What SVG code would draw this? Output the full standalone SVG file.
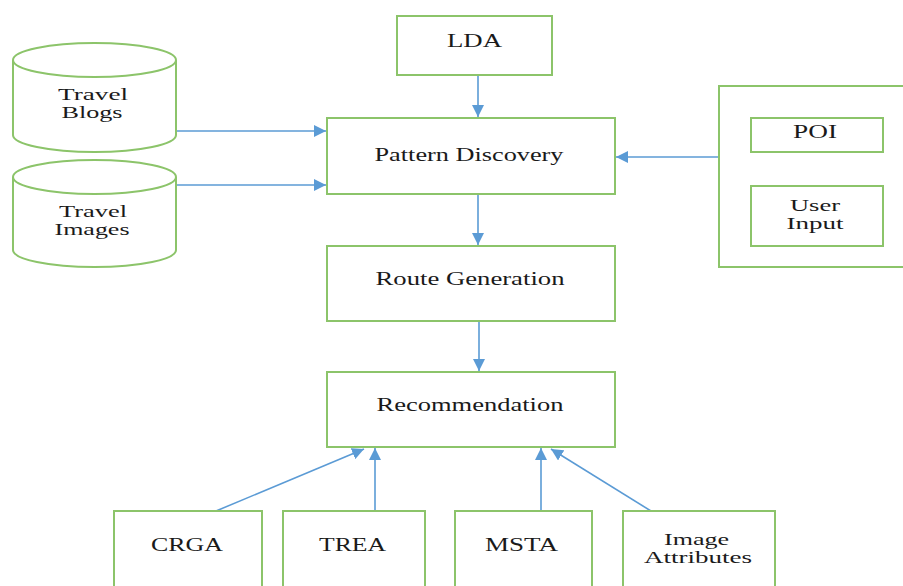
<svg xmlns="http://www.w3.org/2000/svg" width="903" height="586" viewBox="0 0 903 586">
<defs>
<style>
.box{fill:#fff;stroke:#8cc46a;stroke-width:2}
.t{font-family:"Liberation Serif","Times New Roman",serif;font-size:19px;fill:#1a1a1a;text-anchor:middle}
.t2{font-family:"Liberation Serif","Times New Roman",serif;font-size:16px;fill:#1a1a1a;text-anchor:middle}
.c{stroke:#5b9bd5;stroke-width:1.6;fill:none}
</style>
<marker id="ah" viewBox="0 0 12 12" refX="12" refY="6" markerWidth="12" markerHeight="12" markerUnits="userSpaceOnUse" orient="auto">
<path d="M0,0 L12,6 L0,12 Z" fill="#5b9bd5"/>
</marker>
</defs>
<rect width="903" height="586" fill="#fff"/>

<g id="connectors">
<line class="c" x1="478" y1="75" x2="478" y2="117" marker-end="url(#ah)"/>
<line class="c" x1="176" y1="131" x2="326" y2="131" marker-end="url(#ah)"/>
<line class="c" x1="176" y1="185" x2="326" y2="185" marker-end="url(#ah)"/>
<line class="c" x1="719" y1="157" x2="616" y2="157" marker-end="url(#ah)"/>
<line class="c" x1="478" y1="195" x2="478" y2="245" marker-end="url(#ah)"/>
<line class="c" x1="479" y1="321" x2="479" y2="371" marker-end="url(#ah)"/>
<line class="c" x1="216" y1="511" x2="364" y2="449" marker-end="url(#ah)"/>
<line class="c" x1="375" y1="511" x2="375" y2="448" marker-end="url(#ah)"/>
<line class="c" x1="541" y1="511" x2="541" y2="448" marker-end="url(#ah)"/>
<line class="c" x1="651" y1="511" x2="551" y2="449" marker-end="url(#ah)"/>
</g>

<g id="lda">
<rect class="box" x="397" y="16" width="155" height="59"/>
<text class="t" x="474.5" y="47" textLength="55" lengthAdjust="spacingAndGlyphs">LDA</text>
</g>

<g id="travel-blogs">
<path class="box" d="M13,60 A81.5,17 0 0 1 176,60 V135 A81.5,17 0 0 1 13,135 Z"/>
<path class="box" fill="none" d="M13,60 A81.5,17 0 0 0 176,60"/>
<text class="t2" x="93" y="100" textLength="70" lengthAdjust="spacingAndGlyphs">Travel</text>
<text class="t2" x="92" y="118" textLength="61" lengthAdjust="spacingAndGlyphs">Blogs</text>
</g>

<g id="travel-images">
<path class="box" d="M13,177 A81.5,17 0 0 1 176,177 V250 A81.5,17 0 0 1 13,250 Z"/>
<path class="box" fill="none" d="M13,177 A81.5,17 0 0 0 176,177"/>
<text class="t2" x="93" y="217" textLength="68" lengthAdjust="spacingAndGlyphs">Travel</text>
<text class="t2" x="92" y="235" textLength="75" lengthAdjust="spacingAndGlyphs">Images</text>
</g>

<g id="pattern-discovery">
<rect class="box" x="327" y="118" width="288" height="76"/>
<text class="t" x="469" y="161" textLength="189" lengthAdjust="spacingAndGlyphs">Pattern Discovery</text>
</g>

<g id="input-group">
<rect class="box" x="719" y="86" width="200" height="181"/>
</g>

<g id="poi">
<rect class="box" x="751" y="118" width="132" height="34"/>
<text class="t" x="815" y="138" textLength="44" lengthAdjust="spacingAndGlyphs">POI</text>
</g>

<g id="user-input">
<rect class="box" x="751" y="186" width="132" height="60"/>
<text class="t2" x="815" y="211" textLength="50" lengthAdjust="spacingAndGlyphs">User</text>
<text class="t2" x="815" y="229" textLength="57" lengthAdjust="spacingAndGlyphs">Input</text>
</g>

<g id="route-generation">
<rect class="box" x="327" y="246" width="288" height="75"/>
<text class="t" x="470" y="285" textLength="189" lengthAdjust="spacingAndGlyphs">Route Generation</text>
</g>

<g id="recommendation">
<rect class="box" x="327" y="372" width="288" height="75"/>
<text class="t" x="470" y="411" textLength="187" lengthAdjust="spacingAndGlyphs">Recommendation</text>
</g>

<g id="crga">
<rect class="box" x="114" y="511" width="148" height="90"/>
<text class="t" x="187" y="551" textLength="72" lengthAdjust="spacingAndGlyphs">CRGA</text>
</g>

<g id="trea">
<rect class="box" x="283" y="511" width="142" height="90"/>
<text class="t" x="352.5" y="551" textLength="67" lengthAdjust="spacingAndGlyphs">TREA</text>
</g>

<g id="msta">
<rect class="box" x="455" y="511" width="137" height="90"/>
<text class="t" x="521.5" y="551" textLength="73" lengthAdjust="spacingAndGlyphs">MSTA</text>
</g>

<g id="image-attributes">
<rect class="box" x="623" y="511" width="152" height="90"/>
<text class="t2" x="696.5" y="545" textLength="65" lengthAdjust="spacingAndGlyphs">Image</text>
<text class="t2" x="698" y="563" textLength="108" lengthAdjust="spacingAndGlyphs">Attributes</text>
</g>
</svg>
